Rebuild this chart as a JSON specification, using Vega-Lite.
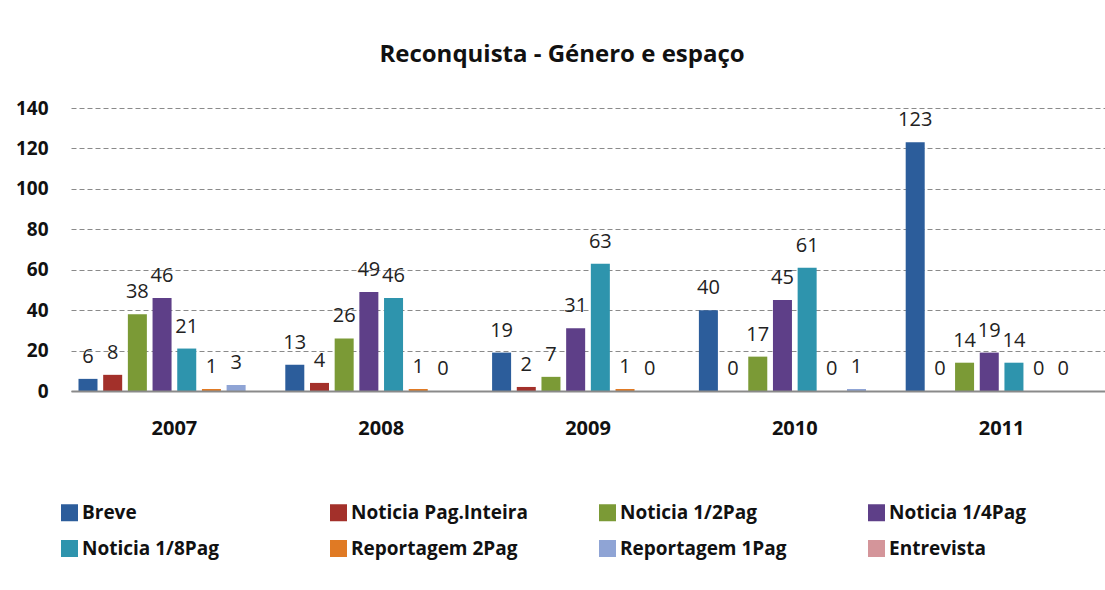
{
  "$schema": "https://vega.github.io/schema/vega-lite/v6.json",
  "autosize": "none",
  "width": 1034,
  "height": 283,
  "padding": {"left": 71, "top": 108, "right": 0, "bottom": 199},
  "background": "white",
  "title": {"text": "Reconquista - Género e espaço", "font": "Open Sans", "fontSize": 24, "fontWeight": "bold", "color": "#111111", "anchor": "middle", "dx": -26, "offset": 32, "frame": "group"},
  "data": {"values": [
    {"ano": "2007", "serie": "Breve", "valor": 6},
    {"ano": "2007", "serie": "Noticia Pag.Inteira", "valor": 8},
    {"ano": "2007", "serie": "Noticia 1/2Pag", "valor": 38},
    {"ano": "2007", "serie": "Noticia 1/4Pag", "valor": 46},
    {"ano": "2007", "serie": "Noticia 1/8Pag", "valor": 21},
    {"ano": "2007", "serie": "Reportagem 2Pag", "valor": 1},
    {"ano": "2007", "serie": "Reportagem 1Pag", "valor": 3},
    {"ano": "2008", "serie": "Breve", "valor": 13},
    {"ano": "2008", "serie": "Noticia Pag.Inteira", "valor": 4},
    {"ano": "2008", "serie": "Noticia 1/2Pag", "valor": 26},
    {"ano": "2008", "serie": "Noticia 1/4Pag", "valor": 49},
    {"ano": "2008", "serie": "Noticia 1/8Pag", "valor": 46},
    {"ano": "2008", "serie": "Reportagem 2Pag", "valor": 1},
    {"ano": "2008", "serie": "Reportagem 1Pag", "valor": 0},
    {"ano": "2009", "serie": "Breve", "valor": 19},
    {"ano": "2009", "serie": "Noticia Pag.Inteira", "valor": 2},
    {"ano": "2009", "serie": "Noticia 1/2Pag", "valor": 7},
    {"ano": "2009", "serie": "Noticia 1/4Pag", "valor": 31},
    {"ano": "2009", "serie": "Noticia 1/8Pag", "valor": 63},
    {"ano": "2009", "serie": "Reportagem 2Pag", "valor": 1},
    {"ano": "2009", "serie": "Reportagem 1Pag", "valor": 0},
    {"ano": "2010", "serie": "Breve", "valor": 40},
    {"ano": "2010", "serie": "Noticia Pag.Inteira", "valor": 0},
    {"ano": "2010", "serie": "Noticia 1/2Pag", "valor": 17},
    {"ano": "2010", "serie": "Noticia 1/4Pag", "valor": 45},
    {"ano": "2010", "serie": "Noticia 1/8Pag", "valor": 61},
    {"ano": "2010", "serie": "Reportagem 2Pag", "valor": 0},
    {"ano": "2010", "serie": "Reportagem 1Pag", "valor": 1},
    {"ano": "2011", "serie": "Breve", "valor": 123},
    {"ano": "2011", "serie": "Noticia Pag.Inteira", "valor": 0},
    {"ano": "2011", "serie": "Noticia 1/2Pag", "valor": 14},
    {"ano": "2011", "serie": "Noticia 1/4Pag", "valor": 19},
    {"ano": "2011", "serie": "Noticia 1/8Pag", "valor": 14},
    {"ano": "2011", "serie": "Reportagem 2Pag", "valor": 0},
    {"ano": "2011", "serie": "Reportagem 1Pag", "valor": 0}
  ]},
  "encoding": {
    "x": {"field": "ano", "type": "nominal",
      "scale": {"paddingInner": 0.045, "paddingOuter": 0.0225},
      "axis": {"title": null, "labelAngle": 0, "labelFont": "Open Sans", "labelFontSize": 20, "labelFontWeight": "bold", "labelColor": "#111111", "ticks": false, "domainColor": "#8a8a8a", "domainWidth": 2, "labelPadding": 27, "grid": false, "zindex": 1}},
    "xOffset": {"field": "serie", "type": "nominal",
      "scale": {"domain": ["Breve", "Noticia Pag.Inteira", "Noticia 1/2Pag", "Noticia 1/4Pag", "Noticia 1/8Pag", "Reportagem 2Pag", "Reportagem 1Pag", "Entrevista"], "paddingInner": 0.23, "paddingOuter": 0.115}},
    "y": {"field": "valor", "type": "quantitative",
      "scale": {"domain": [0, 140], "nice": false},
      "axis": {"title": null, "values": [0, 20, 40, 60, 80, 100, 120, 140], "labelFont": "Open Sans", "labelFontSize": 19, "labelFontWeight": "bold", "labelColor": "#111111", "ticks": false, "domain": false, "gridDash": [5, 3], "gridColor": "#8a8a8a", "gridWidth": 1, "labelPadding": 23}}
  },
  "layer": [
    {"mark": {"type": "bar"},
     "encoding": {"color": {"field": "serie", "type": "nominal",
       "scale": {"domain": ["Breve", "Noticia Pag.Inteira", "Noticia 1/2Pag", "Noticia 1/4Pag", "Noticia 1/8Pag", "Reportagem 2Pag", "Reportagem 1Pag", "Entrevista"],
                 "range": ["#2c5d9b", "#a3302a", "#7b9a36", "#5e3f88", "#2e94ad", "#e07a24", "#8fa4d5", "#d4959a"]},
       "legend": {"orient": "none", "legendX": -11, "legendY": 395, "direction": "horizontal", "columns": 4, "title": null, "symbolType": "square", "symbolSize": 289, "symbolStrokeWidth": 0, "labelFont": "Open Sans", "labelFontSize": 19, "labelFontWeight": "bold", "labelColor": "#111111", "labelLimit": 400, "columnPadding": 70, "rowPadding": 16, "labelOffset": 3, "gridAlign": "all"}}}},
    {"mark": {"type": "text", "dy": -16, "baseline": "alphabetic", "font": "Open Sans", "fontSize": 20, "color": "#222222"},
     "encoding": {"text": {"field": "valor", "type": "quantitative"}}}
  ],
  "config": {"view": {"stroke": null}}
}
